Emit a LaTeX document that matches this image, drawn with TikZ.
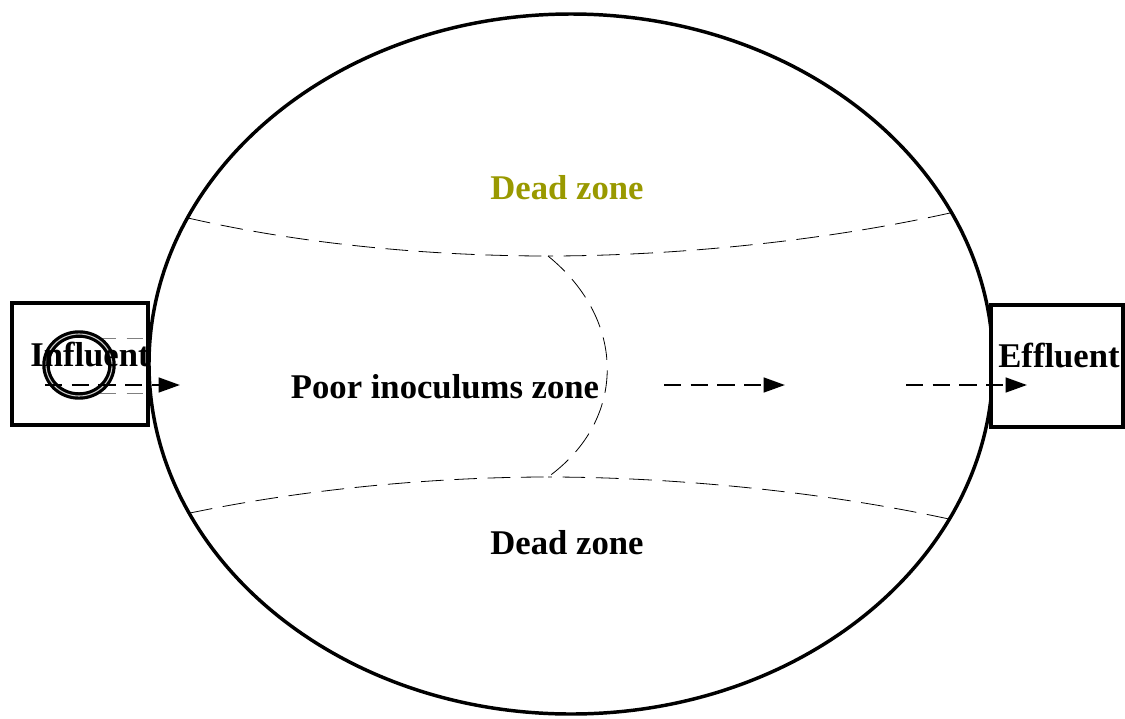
\documentclass[tikz,border=0pt]{standalone}
\usepackage{fontspec}
\setmainfont{Liberation Serif}
\usetikzlibrary{arrows.meta}
\definecolor{deadolive}{RGB}{153,153,0}
\tikzset{
  zonetext/.style={font=\fontsize{26}{30}\selectfont\bfseries},
  zoneline/.style={line width=0.6pt, dash pattern=on 17pt off 8pt},
  flowarrow/.style={line width=1.8pt, dash pattern=on 13pt off 7pt,
    -{Triangle[length=16pt,width=11pt]}},
  pipebox/.style={draw, line width=2.4pt, fill=white}
}
\begin{document}
\begin{tikzpicture}[x=0.75pt,y=-0.75pt]
    \path[use as bounding box] (0,0) rectangle (1125,718);

    % Reactor
    \draw[line width=2.6pt] (571,364) ellipse [x radius=422, y radius=350];

    % Inlet and outlet
    \draw[pipebox] (12,303) rectangle (148,425);
    \draw[pipebox] (991,305) rectangle (1123,427);
    \draw[gray, thin, dash pattern=on 12pt off 8pt] (100,338) -- (148,338);
    \draw[gray, thin, dash pattern=on 12pt off 8pt] (100,393) -- (148,393);
    \draw[line width=2.4pt, double=gray!40, double distance=0.8pt]
        (79,365) ellipse [x radius=33, y radius=31];

    % Zone boundaries
    \coordinate (topmid) at (548,256);
    \coordinate (botmid) at (548,477);
    \draw[zoneline] (188,218) .. controls (310,246) and (440,256) .. (topmid);
    \draw[zoneline] (950,213) .. controls (810,244) and (660,256) .. (topmid);
    \draw[zoneline] (190,513) .. controls (310,488) and (440,477) .. (botmid);
    \draw[zoneline] (949,519) .. controls (810,489) and (660,477) .. (botmid);
    \draw[zoneline] (topmid) .. controls (627,320) and (627,420) .. (botmid);

    % Labels
    \node[zonetext, text=deadolive] (deadtop) at (567,188) {Dead zone};
    \node[zonetext] (poor) at (445,387) {Poor inoculums zone};
    \node[zonetext] (deadbot) at (567,543) {Dead zone};
    \node[zonetext] (influent) at (90,355) {Influent};
    \node[zonetext] (effluent) at (1059,356) {Effluent};

    % Flow
    \coordinate (in1) at (45,385);
    \coordinate (in2) at (180,385);
    \coordinate (mid1) at (664,385);
    \coordinate (mid2) at (785,385);
    \coordinate (out1) at (906,385);
    \coordinate (out2) at (1027,385);
    \draw[flowarrow] (in1) -- (in2);
    \draw[flowarrow] (mid1) -- (mid2);
    \draw[flowarrow] (out1) -- (out2);
\end{tikzpicture}
\end{document}
